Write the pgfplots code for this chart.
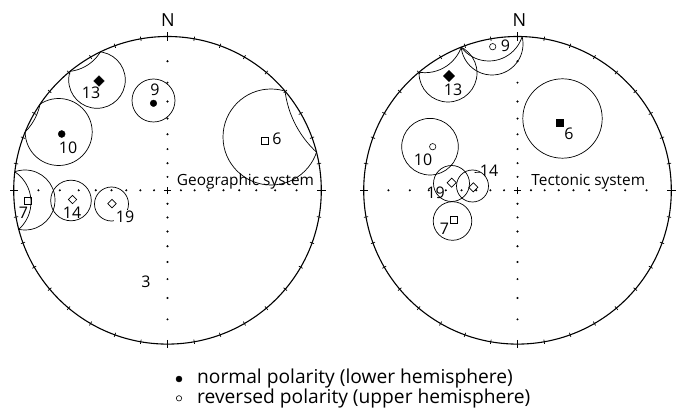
\documentclass[border=0pt]{standalone}
\usepackage{pgfplots}
\pgfplotsset{compat=1.18}
\usepackage{fontspec}
\setmainfont{Open Sans}
\begin{document}
\begin{tikzpicture}
\useasboundingbox (0,0) rectangle (679pt,413pt);
\pgfplotsset{
  net/.style={x=1pt, y=1pt, ymin=-222.7, ymax=190.3, hide axis, clip=false, at={(0pt,0pt)}, anchor=south west},
  netL/.style={net, xmin=-167.5, xmax=511.5},
  netR/.style={net, xmin=-517.5, xmax=161.5},
  ci/.style={only marks, mark=o, mark size=#1pt, mark options={line width=0.7pt, draw=black, fill=none}},
  prim/.style={only marks, mark=o, mark size=153.8pt, mark options={line width=1.1pt, draw=black, fill=none}},
  dots/.style={only marks, mark=*, mark size=0.8pt, black},
}
\tikzset{lab/.style={font=\fontsize{16}{16}\selectfont, inner sep=0pt},
  sys/.style={font=\fontsize{15.4}{15.4}\selectfont, inner sep=0pt},
  leg/.style={font=\fontsize{19.2}{19.2}\selectfont, inner sep=0pt, anchor=west}}
% ---------- left net: confidence circles (clipped to primitive)
\begin{scope}
\clip (167.5pt,222.7pt) circle (153.8pt);
\begin{axis}[netL]
\addplot[ci=28.3] coordinates {(-70.5,110.3)};   % 13
\addplot[ci=21.5] coordinates {(-14,89.8)};      % 9
\addplot[ci=33.5] coordinates {(-108.8,58.3)};   % 10
\addplot[ci=48]   coordinates {(103.5,53.3)};    % 6
\addplot[ci=30]   coordinates {(-142.5,-9.7)};   % 7
\addplot[ci=20.3] coordinates {(-96.5,-10.2)};   % 14
\addplot[ci=17]   coordinates {(-56,-13.7)};     % 19
% upper-hemisphere parts
\addplot[ci=100.9] coordinates {(217.6,112.1)};  % 6
\addplot[ci=41.0]  coordinates {(-102.1,159.7)}; % 13
\addplot[ci=36.4]  coordinates {(-172.9,-11.8)}; % 7
\addplot[ci=56.1]  coordinates {(-182.3,97.7)};  % 10
\end{axis}
\end{scope}
% ---------- right net: confidence circles
\begin{scope}
\clip (517.5pt,222.7pt) circle (153.8pt);
\begin{axis}[netR]
\addplot[ci=31]   coordinates {(-25.5,146.3)};   % 9
\addplot[ci=29]   coordinates {(-69.5,117.3)};   % 13
\addplot[ci=39.7] coordinates {(45,71.8)};       % 6
\addplot[ci=28.3] coordinates {(-87.5,43.6)};    % 10
\addplot[ci=18]   coordinates {(-66,6.8)};       % 19
\addplot[ci=16]   coordinates {(-45,4.3)};       % 14
\addplot[ci=19.3] coordinates {(-65,-30.7)};     % 7
\addplot[ci=34.8] coordinates {(-28.6,164.1)};   % 9 upper
\addplot[ci=38.7] coordinates {(-92.6,156.3)};   % 13 upper
\end{axis}
\end{scope}
% ---------- left net: frame, points, labels
\begin{axis}[netL]
\addplot[prim] coordinates {(0,0)};
\pgfplotsinvokeforeach{0,10,...,350}{\addplot[data cs=polar, line width=0.7pt] coordinates {(#1,151.6) (#1,156)};}
\pgfplotsinvokeforeach{0,90,180,270}{\addplot[data cs=polar, line width=0.8pt] coordinates {(#1,149.6) (#1,158)};}
\addplot[line width=0.8pt] coordinates {(-3.7,0) (3.7,0)};
\addplot[line width=0.8pt] coordinates {(0,-3.7) (0,3.7)};
\addplot[dots] coordinates {
(13.46,0) (27.12,0) (41.21,0) (55.98,0) (71.72,0) (88.80,0) (107.69,0) (129.05,0)
(-13.46,0) (-27.12,0) (-41.21,0) (-55.98,0) (-71.72,0) (-88.80,0) (-107.69,0) (-129.05,0)
(0,13.46) (0,27.12) (0,41.21) (0,55.98) (0,71.72) (0,88.80) (0,107.69) (0,129.05)
(0,-13.46) (0,-27.12) (0,-41.21) (0,-55.98) (0,-71.72) (0,-88.80) (0,-107.69) (0,-129.05)};
\addplot[only marks, mark=square*, mark size=3.7pt, mark options={rotate=45, fill=black, draw=black}] coordinates {(-68.5,109.3)};
\addplot[only marks, mark=*, mark size=3.3pt, mark options={fill=black, draw=black}] coordinates {(-14,87)};
\addplot[only marks, mark=*, mark size=3.5pt, mark options={fill=black, draw=black}] coordinates {(-105.8,56.3)};
\addplot[only marks, mark=square, mark size=3.5pt, mark options={line width=0.7pt, draw=black}] coordinates {(97.5,49.6) (-139.2,-10.4)};
\addplot[only marks, mark=square, mark size=3pt, mark options={rotate=45, line width=0.7pt, draw=black}] coordinates {(-95,-9.2) (-55.5,-13.4)};
\node[lab] at (axis cs:-76.5,97.3) {13};
\node[lab] at (axis cs:-12.5,100.3) {9};
\node[lab] at (axis cs:-99.5,42.3) {10};
\node[lab] at (axis cs:109.5,51.3) {6};
\node[lab] at (axis cs:-144,-22.7) {7};
\node[lab] at (axis cs:-95.5,-22.7) {14};
\node[lab, fill=white, inner sep=1.5pt] at (axis cs:-42.5,-26.7) {19};
\node[lab] at (axis cs:-21.5,-91.7) {3};
\node[sys] at (axis cs:78,8.8) {Geographic system};
\node[font=\fontsize{18}{18}\selectfont, inner sep=0pt] at (axis cs:0.5,170.3) {N};
% legend
\addplot[only marks, mark=*, mark size=3pt, mark options={fill=black, draw=black}] coordinates {(11.5,-188.7)};
\addplot[only marks, mark=o, mark size=2.7pt, mark options={line width=0.6pt, draw=black}] coordinates {(11.5,-208)};
\node[leg] at (axis cs:29.5,-188.7) {normal polarity (lower hemisphere)};
\node[leg] at (axis cs:29.5,-208) {reversed polarity (upper hemisphere)};
\end{axis}
% ---------- right net
\begin{axis}[netR]
\addplot[prim] coordinates {(0,0)};
\pgfplotsinvokeforeach{0,10,...,350}{\addplot[data cs=polar, line width=0.7pt] coordinates {(#1,151.6) (#1,156)};}
\pgfplotsinvokeforeach{0,90,180,270}{\addplot[data cs=polar, line width=0.8pt] coordinates {(#1,149.6) (#1,158)};}
\addplot[line width=0.8pt] coordinates {(-3.7,0) (3.7,0)};
\addplot[line width=0.8pt] coordinates {(0,-3.7) (0,3.7)};
\addplot[dots] coordinates {
(13.46,0) (27.12,0) (41.21,0) (55.98,0) (71.72,0) (88.80,0) (107.69,0) (129.05,0)
(-13.46,0) (-27.12,0) (-41.21,0) (-55.98,0) (-71.72,0) (-88.80,0) (-107.69,0) (-129.05,0)
(0,13.46) (0,27.12) (0,41.21) (0,55.98) (0,71.72) (0,88.80) (0,107.69) (0,129.05)
(0,-13.46) (0,-27.12) (0,-41.21) (0,-55.98) (0,-71.72) (0,-88.80) (0,-107.69) (0,-129.05)};
\addplot[only marks, mark=o, mark size=3.2pt, mark options={line width=0.6pt, draw=black}] coordinates {(-24.8,143.6) (-84.8,43.6)};
\addplot[only marks, mark=square*, mark size=3.9pt, mark options={rotate=45, fill=black, draw=black}] coordinates {(-68.5,114.3)};
\addplot[only marks, mark=square*, mark size=3.6pt, mark options={fill=black, draw=black}] coordinates {(42.5,67.6)};
\addplot[only marks, mark=square, mark size=3.3pt, mark options={line width=0.7pt, draw=black}] coordinates {(-63.5,-29.7)};
\addplot[only marks, mark=square, mark size=3.2pt, mark options={rotate=45, line width=0.7pt, draw=black}] coordinates {(-65.8,7.6) (-44.2,3)};
\addplot[line width=0.6pt] coordinates {(-43,17.8) (-37,17.6)};
\node[lab] at (axis cs:-28.5,19.3) {14};
\node[lab] at (axis cs:-12,144.3) {9};
\node[lab] at (axis cs:-64.5,100.3) {13};
\node[lab] at (axis cs:51.5,56.3) {6};
\node[lab] at (axis cs:-94.5,30.3) {10};
\node[lab] at (axis cs:-81.8,-2.7) {19};
\node[lab] at (axis cs:-73,-38.7) {7};
\node[sys] at (axis cs:70.8,8.8) {Tectonic system};
\node[font=\fontsize{18}{18}\selectfont, inner sep=0pt] at (axis cs:1.8,170.3) {N};
\end{axis}
\end{tikzpicture}
\end{document}
